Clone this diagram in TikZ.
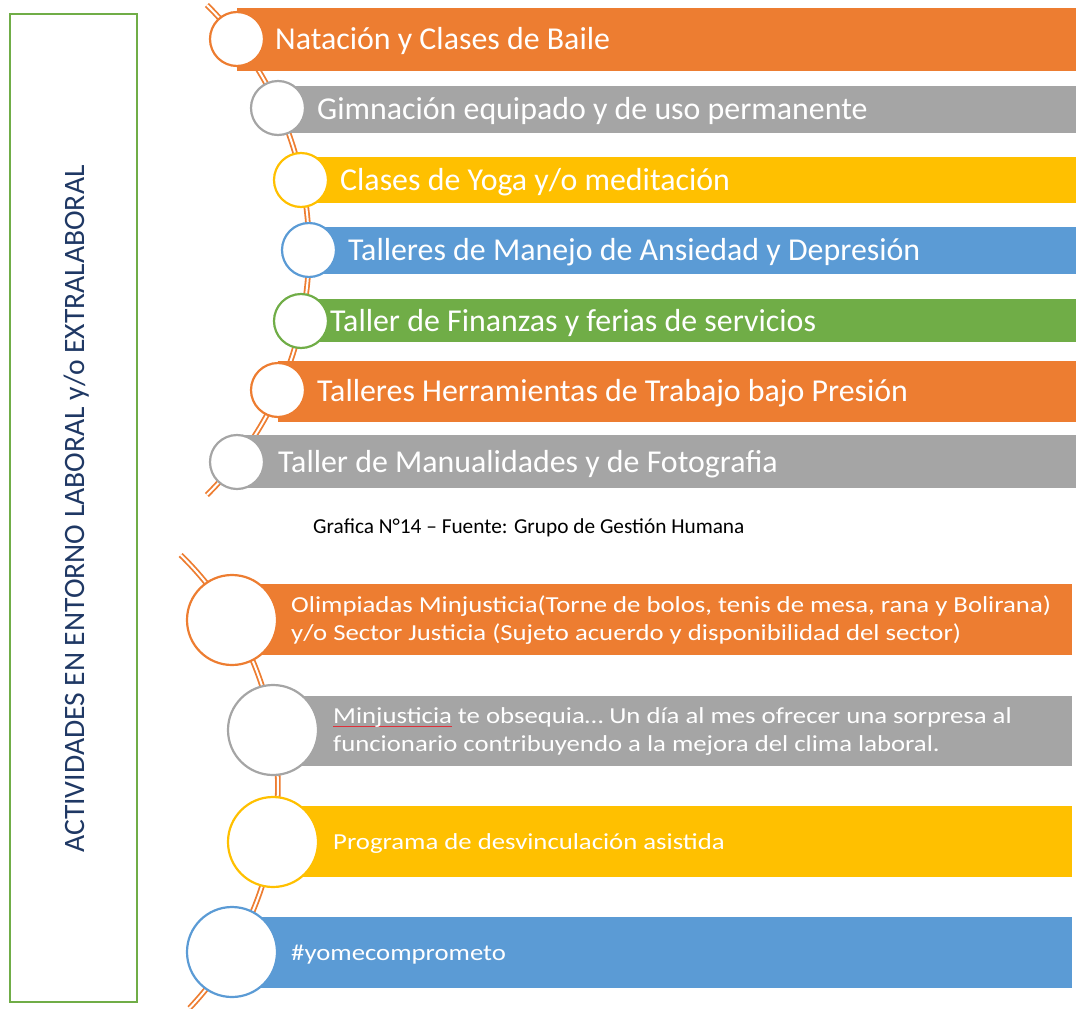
\documentclass[tikz,border=0pt]{standalone}
\usepackage{fontspec}
\setmainfont{Carlito}
\newfontfamily\anchafont[FakeStretch=1.167]{Carlito}
\usetikzlibrary{calc,positioning}

\definecolor{naranja}{HTML}{ED7D31}
\definecolor{gris}{HTML}{A5A5A5}
\definecolor{amarillo}{HTML}{FFC000}
\definecolor{azul}{HTML}{5B9BD5}
\definecolor{verde}{HTML}{70AD47}
\definecolor{marino}{HTML}{1F3864}
\definecolor{rojo}{HTML}{E0303A}

\newcommand{\spellmark}[1]{\rlap{\textcolor{rojo}{\rule[-3.5bp]{119bp}{1bp}}}#1}

\begin{document}
\begin{tikzpicture}[x=1bp, y=-1bp,
	spine/.style={draw=naranja, line width=1.8bp, double=white, double distance=2bp},
	bar/.style={rectangle, inner sep=0pt, anchor=west},
	ring/.style={circle, draw, fill=white, line width=2.2bp, inner sep=0pt, minimum size=#1},
	toptxt/.style={text=white, font=\fontsize{32}{34}\selectfont, inner sep=0pt, anchor=base west},
	lowtxt/.style={text=white, font=\anchafont\fontsize{23}{28}\selectfont, inner sep=0pt, align=left},
]
	\useasboundingbox (0,0) rectangle (1076,1009);

	% marco y titulo vertical
	\node[draw=verde, line width=2.5bp, minimum width=127bp, minimum height=988bp, inner sep=0pt] (frame) at (73.5,508) {};
	\node[rotate=90, anchor=base, text=marino, font=\fontsize{29.7}{32}\selectfont, inner sep=0pt] (title) at (84,509) {ACTIVIDADES EN ENTORNO LABORAL y/o EXTRALABORAL};

	% linea de tiempo superior
	\coordinate (spinetop) at (206.9,5);
	\draw[spine] (spinetop) arc[start angle=-45.24, end angle=45.24, radius=345];

	\node[bar, fill=naranja, minimum width=839bp, minimum height=63bp] (bar1) at (237,39.5) {};
	\node[bar, fill=gris, minimum width=798bp, minimum height=47bp] (bar2) at (278,109.5) {};
	\node[bar, fill=amarillo, minimum width=775bp, minimum height=46bp] (bar3) at (301,180) {};
	\node[bar, fill=azul, minimum width=767bp, minimum height=47bp] (bar4) at (309,250.5) {};
	\node[bar, fill=verde, minimum width=775bp, minimum height=43bp] (bar5) at (301,320.5) {};
	\node[bar, fill=naranja, minimum width=798bp, minimum height=61bp] (bar6) at (278,391.5) {};
	\node[bar, fill=gris, minimum width=839bp, minimum height=53bp] (bar7) at (237,461.5) {};

	\node[ring=54bp, draw=naranja] (circ1) at (237,39) {};
	\node[ring=54bp, draw=gris] (circ2) at (278,108) {};
	\node[ring=54bp, draw=amarillo] (circ3) at (301,180) {};
	\node[ring=54bp, draw=azul] (circ4) at (309,250) {};
	\node[ring=54bp, draw=verde] (circ5) at (301,321) {};
	\node[ring=54bp, draw=naranja] (circ6) at (278,390) {};
	\node[ring=54bp, draw=gris] (circ7) at (237,462) {};

	\node[toptxt] (txt1) at ($(circ1)+(38,10)$) {Natación y Clases de Baile};
	\node[toptxt] (txt2) at ($(circ2)+(39,11)$) {Gimnación equipado y de uso permanente};
	\node[toptxt] (txt3) at ($(circ3)+(39,10)$) {Clases de Yoga y/o meditación};
	\node[toptxt] (txt4) at ($(circ4)+(39,10)$) {Talleres de Manejo de Ansiedad y Depresión};
	\node[toptxt] (txt5) at ($(circ5)+(29,10)$) {Taller de Finanzas y ferias de servicios};
	\node[toptxt] (txt6) at ($(circ6)+(39,11)$) {Talleres Herramientas de Trabajo bajo Presión};
	\node[toptxt] (txt7) at ($(circ7)+(41,10)$) {Taller de Manualidades y de Fotografia};

	\node[anchor=base west, inner sep=0pt, font=\fontsize{21.4}{24}\selectfont] (caption) at (313,533) {Grafica N°14 – Fuente: Grupo de Gestión Humana};

	% linea de tiempo inferior
	\coordinate (spinelow) at (180.7,555);
	\draw[spine] (spinelow) arc[start angle=-45.63, end angle=43.4, radius=323.2];

	\node[bar, fill=naranja, minimum width=840bp, minimum height=71bp] (bar8) at (232,619.5) {};
	\node[bar, fill=gris, minimum width=799bp, minimum height=70bp] (bar9) at (273,731) {};
	\node[bar, fill=amarillo, minimum width=799bp, minimum height=71bp] (bar10) at (273,841.5) {};
	\node[bar, fill=azul, minimum width=840bp, minimum height=71bp] (bar11) at (232,952.5) {};

	\node[ring=90bp, draw=naranja] (circ8) at (232,620) {};
	\node[ring=90bp, draw=gris] (circ9) at (273,730) {};
	\node[ring=90bp, draw=amarillo] (circ10) at (273,842) {};
	\node[ring=90bp, draw=azul] (circ11) at (232,952) {};

	\node[lowtxt, anchor=west] (txt8) at (291,620) {Olimpiadas Minjusticia(Torne de bolos, tenis de mesa, rana y Bolirana)\\y/o Sector Justicia (Sujeto acuerdo y disponibilidad del sector)};
	\node[lowtxt, anchor=west] (txt9) at (333,731.5) {\spellmark{Minjusticia} te obsequia… Un día al mes ofrecer una sorpresa al\\funcionario contribuyendo a la mejora del clima laboral.};
	\node[lowtxt, anchor=base west] (txt10) at (333,849) {Programa de desvinculación asistida};
	\node[lowtxt, anchor=base west] (txt11) at (291,960) {\#yomecomprometo};
\end{tikzpicture}
\end{document}
